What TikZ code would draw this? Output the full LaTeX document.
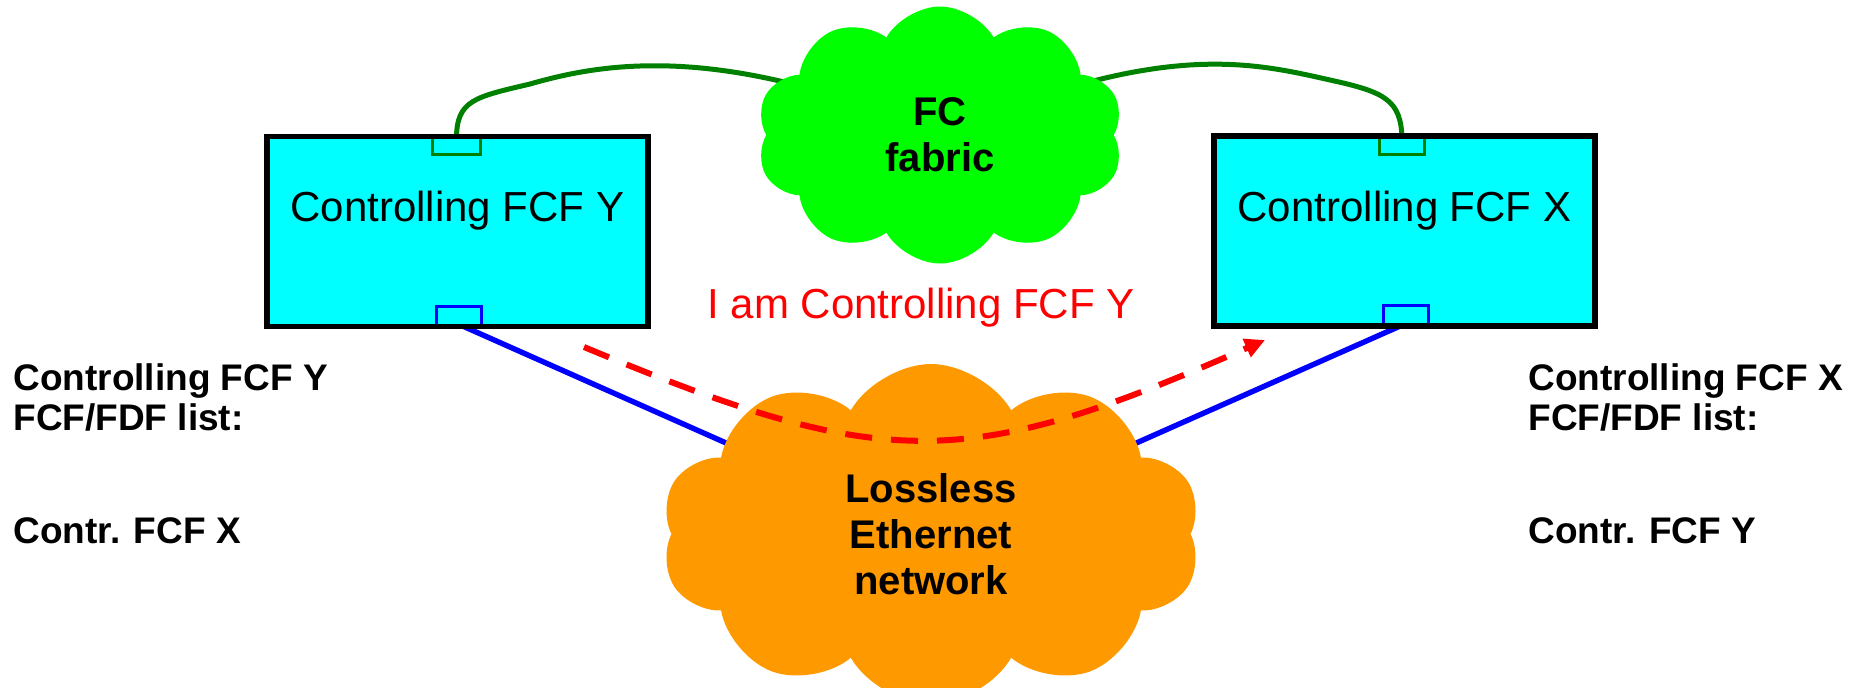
\documentclass[tikz,border=0pt]{standalone}
\usepackage{fontspec}
\setmainfont{Liberation Sans}
\usetikzlibrary{shapes.symbols,arrows.meta}
\definecolor{boxcyan}{rgb}{0, 1.0, 1.0}
\definecolor{fabricgreen}{rgb}{0, 1.0, 0}
\definecolor{cablegreen}{rgb}{0, 0.5, 0}
\definecolor{lanorange}{rgb}{1.0, 0.6, 0}

\begin{document}
\begin{tikzpicture}[x=0.5pt,y=-0.5pt]
  \tikzset{BoxStyle/.style = {
    shape         = rectangle,
    draw          = black,
    fill          = boxcyan,
    line width    = 2.8pt,
    inner sep     = 0pt,
    minimum width = 190.5pt,
    minimum height = 95pt
    }
  }
  \tikzset{BoxTextStyle/.style = {
    text          = black,
    inner sep     = 0pt,
    anchor        = base,
    font          = \fontsize{21}{25}\selectfont
    }
  }
  \tikzset{PortStyle/.style = {
    shape         = rectangle,
    draw          = none,
    inner sep     = 0pt,
    minimum width = 23pt,
    minimum height = 8pt
    }
  }
  \tikzset{FcPortStyle/.style = {
    draw          = cablegreen,
    line width    = 1.8pt
    }
  }
  \tikzset{EthPortStyle/.style = {
    draw          = blue,
    line width    = 1.8pt
    }
  }
  \tikzset{CableStyle/.style = {
    draw          = cablegreen,
    line width    = 2.5pt
    }
  }
  \tikzset{LinkStyle/.style = {
    draw          = blue,
    line width    = 2.7pt
    }
  }
  \tikzset{CloudStyle/.style = {
    shape         = cloud,
    cloud puffs   = 10,
    cloud puff arc = 120,
    cloud ignores aspect,
    draw          = none,
    inner sep     = 0pt,
    align         = center,
    text          = black,
    font          = \fontsize{20}{23}\selectfont\bfseries
    }
  }
  \tikzset{ListStyle/.style = {
    text          = black,
    inner sep     = 0pt,
    anchor        = base west,
    align         = left,
    font          = \fontsize{18.5}{20}\selectfont\bfseries
    }
  }
  \tikzset{MsgStyle/.style = {
    draw          = red,
    line width    = 3pt,
    dash pattern  = on 13.5pt off 9.5pt,
    -{Triangle[length=10pt,width=9.5pt]}
    }
  }

  \useasboundingbox (0,0) rectangle (1861,687);

  % cloud centres and message ends
  \coordinate (fabc) at (940,135);
  \coordinate (lanc) at (931,534);
  \coordinate (msgA) at (584,347);
  \coordinate (msgB) at (1265,340);

  % ports
  \node[PortStyle, minimum width=23.5pt, minimum height=7.5pt](gpY) at (456.5,146.5) {};
  \node[PortStyle, minimum width=22pt, minimum height=8.5pt](bpY) at (459,315.5) {};
  \node[PortStyle, minimum width=22pt, minimum height=7.5pt](gpX) at (1402,146.5) {};
  \node[PortStyle, minimum width=22pt, minimum height=8.5pt](bpX) at (1406,314.5) {};

  % links
  \draw[CableStyle](gpY.north) .. controls (456.5,100) and (475,97) .. (530,84)
    .. controls (600,64) and (720,40) .. (fabc);
  \draw[CableStyle](gpX.north) .. controls (1401,100) and (1385,92) .. (1330,80)
    .. controls (1250,62) and (1160,40) .. (fabc);
  \draw[LinkStyle](bpY.south) -- (lanc);
  \draw[LinkStyle](bpX.south) -- (lanc);

  % FCF boxes
  \node[BoxStyle](fcfY) at (457.5,231.5) {};
  \node[BoxStyle](fcfX) at (1404.25,230.75) {};
  \node[BoxTextStyle](fcfYtxt) at (457.5,221) {Controlling FCF Y};
  \node[BoxTextStyle](fcfXtxt) at (1404.5,221) {Controlling FCF X};

  \draw[FcPortStyle](gpY.north west) |- (gpY.south east) -- (gpY.north east);
  \draw[FcPortStyle](gpX.north west) |- (gpX.south east) -- (gpX.north east);
  \draw[EthPortStyle](bpY.south west) |- (bpY.north east) -- (bpY.south east);
  \draw[EthPortStyle](bpX.south west) |- (bpX.north east) -- (bpX.south east);

  % clouds
  \node[CloudStyle, fill=fabricgreen, minimum width=183.5pt, minimum height=128.5pt](fab) at (fabc) {FC\\fabric};
  \node[CloudStyle, fill=lanorange, minimum width=270pt, minimum height=170pt](lan) at (lanc) {Lossless\\Ethernet\\network};

  % message
  \node[BoxTextStyle, text=red](msgtxt) at (921,318) {I am Controlling FCF Y};
  \draw[MsgStyle](msgA) .. controls (884,472) and (965,472) .. (msgB);

  % FCF/FDF lists
  \node[ListStyle](listY) at (13,430) {Controlling FCF Y\\FCF/FDF list:};
  \node[ListStyle](entryY) at (13,543) {Contr. FCF X};
  \node[ListStyle](listX) at (1528,430) {Controlling FCF X\\FCF/FDF list:};
  \node[ListStyle](entryX) at (1528,543) {Contr. FCF Y};

\end{tikzpicture}
\end{document}
